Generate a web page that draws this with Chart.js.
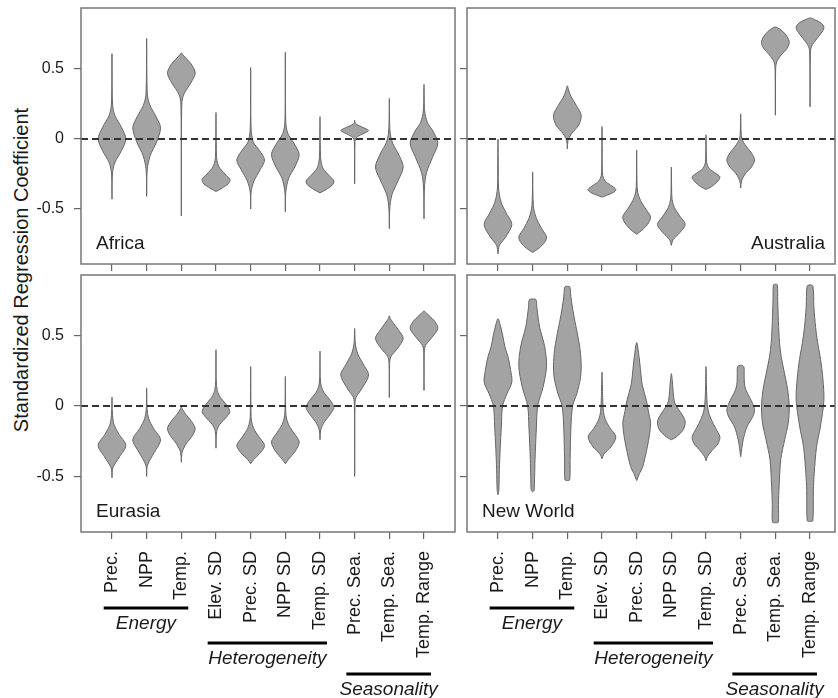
<!DOCTYPE html>
<html>
<head>
<meta charset="utf-8">
<script src="https://cdn.jsdelivr.net/npm/chart.js@4.4.1/dist/chart.umd.min.js"></script>
<style>
    body { margin: 0; background: #fff; width: 838px; height: 698px; overflow: hidden; position: relative; font-family: "Liberation Sans", Arial, sans-serif; }
    canvas { position: absolute; }
    #ytitle { position: absolute; left: 21px; top: 270px; transform: translate(-50%, -50%) rotate(-90deg); white-space: nowrap; font-size: 20px; color: #1a1a1a; }
</style>
</head>
<body>
<div id="ytitle">Standardized Regression Coefficient</div>
<canvas id="africa" width="460" height="280" style="left:0;top:0"></canvas>
<canvas id="australia" width="383" height="280" style="left:455px;top:0"></canvas>
<canvas id="eurasia" width="460" height="431" style="left:0;top:267px"></canvas>
<canvas id="newworld" width="383" height="431" style="left:455px;top:267px"></canvas>
<script>
/**
 * Violin plots of standardized regression coefficients by region
 */

const categories = ['Prec.', 'NPP', 'Temp.', 'Elev. SD', 'Prec. SD', 'NPP SD', 'Temp. SD', 'Prec. Sea.', 'Temp. Sea.', 'Temp. Range'];
const groupNames = ['Energy', 'Heterogeneity', 'Seasonality'];
const groupSpans = [[1, 3], [4, 7], [8, 10]];
const yTicks = [-0.5, 0, 0.5];

// each violin: [coefficient, relative density] from min to max
const africa = [
    [[-0.43,0],[-0.25,0.03],[-0.17,0.2],[-0.08,0.7],[0,1],[0.08,0.7],[0.17,0.2],[0.25,0.04],[0.61,0]],
    [[-0.41,0],[-0.22,0.04],[-0.12,0.25],[-0.02,0.72],[0.08,1],[0.16,0.68],[0.24,0.24],[0.32,0.05],[0.72,0]],
    [[-0.55,0],[0.25,0.03],[0.32,0.18],[0.4,0.68],[0.47,1],[0.53,0.75],[0.57,0.4],[0.6,0.12],[0.615,0]],
    [[-0.375,0],[-0.35,0.45],[-0.32,0.88],[-0.29,1],[-0.25,0.65],[-0.2,0.22],[-0.15,0.06],[-0.05,0.02],[0.19,0]],
    [[-0.5,0],[-0.38,0.03],[-0.3,0.24],[-0.22,0.68],[-0.15,1],[-0.08,0.62],[-0.02,0.18],[0.08,0.03],[0.51,0]],
    [[-0.52,0],[-0.38,0.03],[-0.28,0.24],[-0.2,0.68],[-0.11,1],[-0.03,0.62],[0.04,0.18],[0.12,0.03],[0.62,0]],
    [[-0.385,0],[-0.36,0.45],[-0.33,0.88],[-0.3,1],[-0.26,0.65],[-0.21,0.22],[-0.15,0.06],[-0.05,0.02],[0.16,0]],
    [[-0.32,0],[-0.02,0.02],[0.01,0.12],[0.035,0.55],[0.06,1],[0.085,0.55],[0.105,0.12],[0.12,0.02],[0.135,0]],
    [[-0.64,0],[-0.5,0.03],[-0.4,0.18],[-0.3,0.62],[-0.2,1],[-0.1,0.62],[-0.03,0.24],[0.05,0.05],[0.29,0]],
    [[-0.57,0],[-0.35,0.03],[-0.24,0.18],[-0.13,0.62],[-0.03,1],[0.05,0.68],[0.12,0.24],[0.2,0.05],[0.39,0]]
];

const australia = [
    [[-0.82,0],[-0.76,0.1],[-0.7,0.55],[-0.61,1],[-0.53,0.6],[-0.45,0.22],[-0.35,0.04],[-0.2,0.02],[0,0]],
    [[-0.81,0],[-0.78,0.45],[-0.74,0.85],[-0.7,1],[-0.64,0.65],[-0.57,0.28],[-0.5,0.08],[-0.4,0.02],[-0.235,0]],
    [[-0.07,0],[-0.01,0.05],[0.04,0.32],[0.1,0.82],[0.17,1],[0.24,0.65],[0.3,0.28],[0.35,0.09],[0.38,0]],
    [[-0.415,0],[-0.4,0.4],[-0.38,0.85],[-0.36,1],[-0.33,0.62],[-0.3,0.22],[-0.26,0.05],[-0.2,0.02],[0.09,0]],
    [[-0.68,0],[-0.65,0.4],[-0.6,0.85],[-0.555,1],[-0.5,0.65],[-0.44,0.28],[-0.38,0.07],[-0.3,0.02],[-0.08,0]],
    [[-0.76,0],[-0.72,0.12],[-0.67,0.6],[-0.61,1],[-0.55,0.6],[-0.49,0.22],[-0.43,0.05],[-0.35,0.02],[-0.2,0]],
    [[-0.36,0],[-0.34,0.4],[-0.3,0.85],[-0.27,1],[-0.24,0.62],[-0.21,0.22],[-0.17,0.05],[-0.1,0.02],[0.03,0]],
    [[-0.35,0],[-0.3,0.06],[-0.25,0.32],[-0.2,0.78],[-0.15,1],[-0.1,0.78],[-0.05,0.38],[0,0.09],[0.05,0.03],[0.18,0]],
    [[0.17,0],[0.5,0.02],[0.55,0.09],[0.6,0.42],[0.65,0.86],[0.69,1],[0.73,0.86],[0.77,0.52],[0.795,0.16],[0.8,0]],
    [[0.23,0],[0.6,0.02],[0.66,0.1],[0.72,0.52],[0.77,0.9],[0.8,1],[0.83,0.78],[0.85,0.38],[0.865,0]]
];

const eurasia = [
    [[-0.51,0],[-0.44,0.06],[-0.36,0.55],[-0.28,1],[-0.2,0.5],[-0.13,0.14],[-0.05,0.03],[0.064,0]],
    [[-0.5,0],[-0.42,0.06],[-0.33,0.55],[-0.24,1],[-0.16,0.5],[-0.09,0.14],[-0.02,0.03],[0.128,0]],
    [[-0.4,0],[-0.33,0.05],[-0.27,0.34],[-0.21,0.8],[-0.16,1],[-0.11,0.74],[-0.06,0.32],[-0.02,0.06],[-0.005,0]],
    [[-0.3,0],[-0.18,0.05],[-0.13,0.28],[-0.08,0.74],[-0.04,1],[0.01,0.74],[0.06,0.32],[0.11,0.09],[0.18,0.02],[0.4,0]],
    [[-0.41,0],[-0.38,0.22],[-0.33,0.72],[-0.28,1],[-0.22,0.6],[-0.16,0.22],[-0.1,0.05],[0,0.02],[0.28,0]],
    [[-0.41,0],[-0.38,0.22],[-0.32,0.72],[-0.255,1],[-0.19,0.6],[-0.13,0.22],[-0.07,0.05],[0,0.02],[0.21,0]],
    [[-0.24,0],[-0.17,0.05],[-0.11,0.34],[-0.05,0.8],[-0.01,1],[0.04,0.74],[0.09,0.32],[0.14,0.09],[0.2,0.02],[0.39,0]],
    [[-0.5,0],[0,0.02],[0.06,0.09],[0.12,0.5],[0.22,1],[0.3,0.6],[0.37,0.22],[0.44,0.05],[0.55,0]],
    [[0.06,0],[0.3,0.02],[0.35,0.11],[0.41,0.6],[0.48,1],[0.54,0.65],[0.59,0.28],[0.62,0.07],[0.64,0]],
    [[0.11,0],[0.38,0.02],[0.43,0.11],[0.49,0.6],[0.55,1],[0.6,0.78],[0.64,0.38],[0.665,0.11],[0.675,0]]
];

const newWorld = [
    [[-0.63,0],[-0.6,0.06],[-0.45,0.1],[-0.3,0.16],[-0.15,0.24],[0,0.33],[0.09,0.66],[0.17,1],[0.26,0.9],[0.35,0.72],[0.42,0.5],[0.49,0.36],[0.56,0.2],[0.62,0]],
    [[-0.61,0],[-0.6,0.1],[-0.5,0.14],[-0.38,0.17],[-0.15,0.27],[0,0.36],[0.13,0.74],[0.28,1],[0.42,0.87],[0.56,0.5],[0.7,0.3],[0.755,0.24],[0.76,0]],
    [[-0.53,0],[-0.525,0.17],[-0.38,0.2],[-0.15,0.26],[0,0.38],[0.09,0.69],[0.2,0.95],[0.29,1],[0.4,0.92],[0.49,0.77],[0.6,0.55],[0.68,0.4],[0.78,0.25],[0.845,0.18],[0.85,0]],
    [[-0.375,0],[-0.34,0.15],[-0.29,0.65],[-0.22,1],[-0.16,0.6],[-0.1,0.25],[-0.04,0.1],[0.05,0.05],[0.24,0]],
    [[-0.53,0],[-0.48,0.2],[-0.43,0.44],[-0.29,0.77],[-0.2,0.93],[-0.12,1],[-0.04,0.85],[0.04,0.7],[0.15,0.4],[0.26,0.27],[0.35,0.17],[0.45,0]],
    [[-0.24,0],[-0.22,0.35],[-0.17,0.85],[-0.11,1],[-0.05,0.7],[0,0.35],[0.04,0.2],[0.1,0.13],[0.18,0.07],[0.23,0]],
    [[-0.39,0],[-0.36,0.1],[-0.32,0.4],[-0.27,0.85],[-0.22,1],[-0.16,0.7],[-0.09,0.35],[-0.03,0.15],[0.05,0.06],[0.15,0.03],[0.28,0]],
    [[-0.36,0],[-0.3,0.08],[-0.24,0.18],[-0.15,0.44],[-0.08,0.85],[-0.03,1],[0.02,0.85],[0.06,0.65],[0.12,0.35],[0.17,0.26],[0.23,0.25],[0.28,0.22],[0.29,0]],
    [[-0.83,0],[-0.825,0.21],[-0.7,0.22],[-0.57,0.27],[-0.38,0.39],[-0.24,0.67],[-0.12,0.93],[0,1],[0.12,0.88],[0.26,0.6],[0.35,0.42],[0.45,0.3],[0.6,0.22],[0.75,0.17],[0.86,0.14],[0.865,0]],
    [[-0.82,0],[-0.815,0.2],[-0.6,0.24],[-0.48,0.3],[-0.29,0.47],[-0.15,0.74],[0.04,1],[0.2,0.92],[0.33,0.76],[0.45,0.55],[0.56,0.4],[0.7,0.28],[0.85,0.21],[0.86,0]]
];

const FONT = '"Liberation Sans", Arial, sans-serif';
const HALF_WIDTH = 0.4;   // max half width of a violin, in category units
const TICK_PAD = 12;
const GROUP_GAPS = [8, 13, 16];   // space between longest label and bracket

Chart.defaults.font.family = FONT;

// box round the panel, panel name, and group brackets under the labels
const panelDecor = {
    id: 'panelDecor',
    afterDraw(chart, args, o) {
        const { ctx, chartArea: a } = chart;
        ctx.save();
        ctx.strokeStyle = '#777';
        ctx.lineWidth = 1.5;
        ctx.strokeRect(a.left, a.top, a.right - a.left, a.bottom - a.top);

        ctx.fillStyle = '#1a1a1a';
        ctx.font = '19px ' + FONT;
        ctx.textBaseline = 'alphabetic';
        if (o.align === 'right') {
            ctx.textAlign = 'right';
            ctx.fillText(o.name, a.right - 10, a.bottom - 15);
        } else {
            ctx.textAlign = 'left';
            ctx.fillText(o.name, a.left + 15, a.bottom - 15);
        }

        if (o.groups) {
            const xs = chart.scales.x;
            const labelTop = a.bottom + 7 + TICK_PAD;
            groupNames.forEach((g, i) => {
                const [from, to] = groupSpans[i];
                ctx.font = '18px ' + FONT;
                let longest = 0;
                for (let c = from; c <= to; c++) {
                    longest = Math.max(longest, ctx.measureText(categories[c - 1]).width);
                }
                const y = labelTop + longest + GROUP_GAPS[i];
                const x1 = xs.getPixelForValue(from - 0.24);
                const x2 = xs.getPixelForValue(to + 0.2);
                ctx.strokeStyle = '#000';
                ctx.lineWidth = 3;
                ctx.beginPath();
                ctx.moveTo(x1, y);
                ctx.lineTo(x2, y);
                ctx.stroke();
                ctx.font = 'italic 19px ' + FONT;
                ctx.textAlign = 'center';
                ctx.textBaseline = 'middle';
                ctx.fillText(g, (x1 + x2) / 2, y + 16);
            });
        }
        ctx.restore();
    }
};

function makePanel(id, name, violins, cfg) {
    const datasets = [{
        data: [{ x: cfg.xMin, y: 0 }, { x: cfg.xMax, y: 0 }],
        borderColor: '#333',
        borderWidth: 2,
        borderDash: [7, 4],
        pointRadius: 0,
        fill: false,
        tension: 0
    }];

    violins.forEach((profile, i) => {
        const c = i + 1;
        const right = profile.map(([y, d]) => ({ x: c + d * HALF_WIDTH, y }));
        const left = profile.slice(0, -1).reverse().map(([y, d]) => ({ x: c - d * HALF_WIDTH, y }));
        datasets.push({
            data: right.concat(left),
            borderColor: '#666',
            borderWidth: 1,
            backgroundColor: '#a3a3a3',
            fill: 'shape',
            pointRadius: 0,
            tension: 0.3
        });
    });

    const grid = { drawOnChartArea: false, drawTicks: true, tickLength: 7, color: '#666', lineWidth: 1.2 };

    return new Chart(document.getElementById(id), {
        type: 'line',
        data: { datasets },
        options: {
            responsive: false,
            animation: false,
            devicePixelRatio: 1,
            layout: { padding: cfg.padding },
            plugins: {
                legend: { display: false },
                tooltip: { enabled: false },
                panelDecor: { name, align: cfg.nameAlign, groups: cfg.groups }
            },
            scales: {
                x: {
                    type: 'linear',
                    min: cfg.xMin,
                    max: cfg.xMax,
                    afterBuildTicks: s => { s.ticks = categories.map((_, i) => ({ value: i + 1 })); },
                    grid,
                    border: { display: false },
                    ticks: {
                        display: cfg.xLabels,
                        autoSkip: false,
                        minRotation: 90,
                        maxRotation: 90,
                        padding: TICK_PAD,
                        color: '#1a1a1a',
                        font: { size: 18 },
                        callback: (v, i) => categories[i]
                    },
                    afterFit: s => { s.height = cfg.xHeight; s.paddingLeft = 0; s.paddingRight = 0; }
                },
                y: {
                    min: cfg.yMin,
                    max: cfg.yMax,
                    afterBuildTicks: s => { s.ticks = yTicks.map(v => ({ value: v })); },
                    grid,
                    border: { display: false },
                    ticks: {
                        display: cfg.yLabels,
                        padding: 10,
                        color: '#1a1a1a',
                        font: { size: 16 },
                        callback: v => v === 0 ? '0' : String(v)
                    },
                    afterFit: s => { s.width = cfg.yWidth; s.paddingTop = 0; s.paddingBottom = 0; }
                }
            }
        },
        plugins: [panelDecor]
    });
}

const leftCol = { xMin: 0.106, xMax: 10.894, yLabels: true, yWidth: 81, nameAlign: 'left' };
const rightCol = { xMin: 0.106, xMax: 10.72, yLabels: false, yWidth: 12 };

makePanel('africa', 'Africa', africa, Object.assign({}, leftCol, {
    yMin: -0.893, yMax: 0.936, xLabels: false, xHeight: 16, groups: false,
    padding: { top: 8, right: 5, bottom: 0, left: 0 }
}));
makePanel('australia', 'Australia', australia, Object.assign({}, rightCol, {
    yMin: -0.893, yMax: 0.936, xLabels: false, xHeight: 16, groups: false, nameAlign: 'right',
    padding: { top: 8, right: 3, bottom: 0, left: 0 }
}));
makePanel('eurasia', 'Eurasia', eurasia, Object.assign({}, leftCol, {
    yMin: -0.895, yMax: 0.93, xLabels: true, xHeight: 166, groups: true,
    padding: { top: 8, right: 5, bottom: 0, left: 0 }
}));
makePanel('newworld', 'New World', newWorld, Object.assign({}, rightCol, {
    yMin: -0.895, yMax: 0.93, xLabels: true, xHeight: 166, groups: true, nameAlign: 'left',
    padding: { top: 8, right: 3, bottom: 0, left: 0 }
}));
</script>
</body>
</html>
